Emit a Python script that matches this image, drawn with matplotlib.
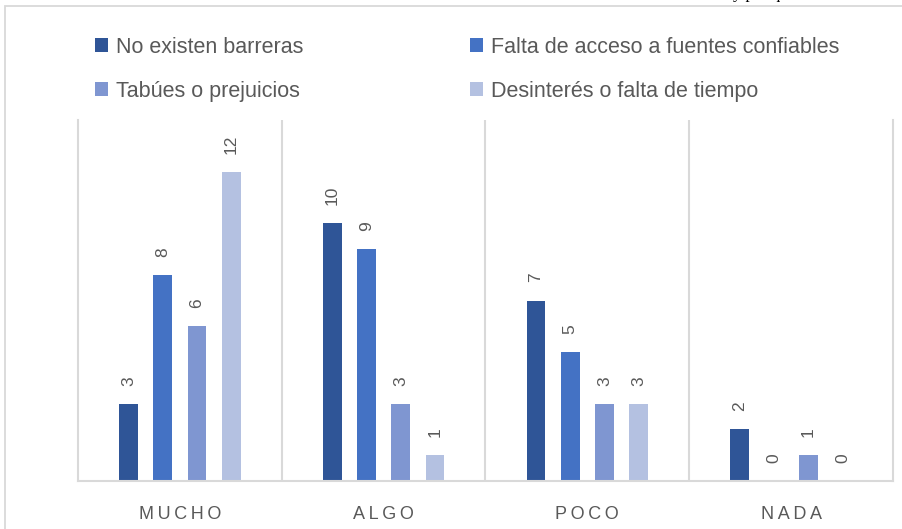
import numpy as np
import matplotlib.pyplot as plt
from matplotlib.patches import Rectangle

# data
categories = ['MUCHO', 'ALGO', 'POCO', 'NADA']
series_names = ['No existen barreras', 'Falta de acceso a fuentes confiables',
                'Tabúes o prejuicios', 'Desinterés o falta de tiempo']
no_existen = [3, 10, 7, 2]
falta_acceso = [8, 9, 5, 0]
tabues = [6, 3, 3, 1]
desinteres = [12, 1, 3, 0]

colors = ['#2F5597', '#4472C4', '#7F96D1', '#B4C1E1']
grid_gray = '#D9D9D9'
text_gray = '#595959'
sans = ['Liberation Sans', 'DejaVu Sans']

W, H = 903, 529
fig = plt.figure(figsize=(W / 100, H / 100), dpi=100)

# outer chart frame (only left and top edges fall inside the picture)
fig.patches.append(Rectangle((5 / W, -0.1), 1.2, 1 - 6 / H + 0.1, transform=fig.transFigure,
                             fill=False, edgecolor=grid_gray, lw=1.3))

# clipped caption line from the page above the chart
fig.text(8 / W, 1.0, 'Gráfica', family='Liberation Serif', fontsize=12,
         va='baseline', color='black')
fig.text(733 / W, 1 + 2 / H, 'y por qué', family='Liberation Serif', fontsize=12,
         va='baseline', color='black')

ax = fig.add_axes([78 / W, 1 - 481 / H, 815 / W, (481 - 120) / H])
x = np.arange(len(categories))
spacing = 0.168
width = 0.092
all_series = [no_existen, falta_acceso, tabues, desinteres]
bars = []
for i, (vals, name, c) in enumerate(zip(all_series, series_names, colors)):
    b = ax.bar(x + (i - 1.5) * spacing, vals, width, color=c, label=name, zorder=2)
    bars.append(b)
    for rect, v in zip(b, vals):
        ax.annotate(str(v), (rect.get_x() + rect.get_width() / 2, v),
                    xytext=(0, 13), textcoords='offset points', rotation=90,
                    ha='center', va='bottom', fontsize=12.5, color=text_gray,
                    family=sans)

ax.set_xlim(-0.5, len(categories) - 0.5)
ax.set_ylim(0, 14)
ax.set_yticks([])
ax.set_xticks(x)
ax.set_xticklabels(['\u2009'.join(c) for c in categories], fontsize=13,
                   color=text_gray, family=sans)
ax.tick_params(axis='x', length=0, pad=18)
ax.spines['top'].set_visible(False)
for sp in ax.spines.values():
    sp.set_color(grid_gray)
    sp.set_linewidth(1.5)
for b in np.arange(0.5, len(categories) - 0.5, 1):
    ax.axvline(b, color=grid_gray, lw=1.5, zorder=1)

# legend: rows ordered like the reference (two columns, filled column-wise)
order = [0, 2, 1, 3]
leg = ax.legend([bars[k] for k in order], [series_names[k] for k in order],
                ncol=2, loc='upper left', bbox_to_anchor=(95 / W, 1 - 37 / H),
                bbox_transform=fig.transFigure, frameon=False,
                prop={'family': sans, 'size': 15.5},
                handlelength=0.62, handleheight=0.62, handletextpad=0.35,
                columnspacing=7.75, labelspacing=1.05, borderpad=0, borderaxespad=0)
for t in leg.get_texts():
    t.set_color(text_gray)

fig.savefig('out.png', dpi=100)
